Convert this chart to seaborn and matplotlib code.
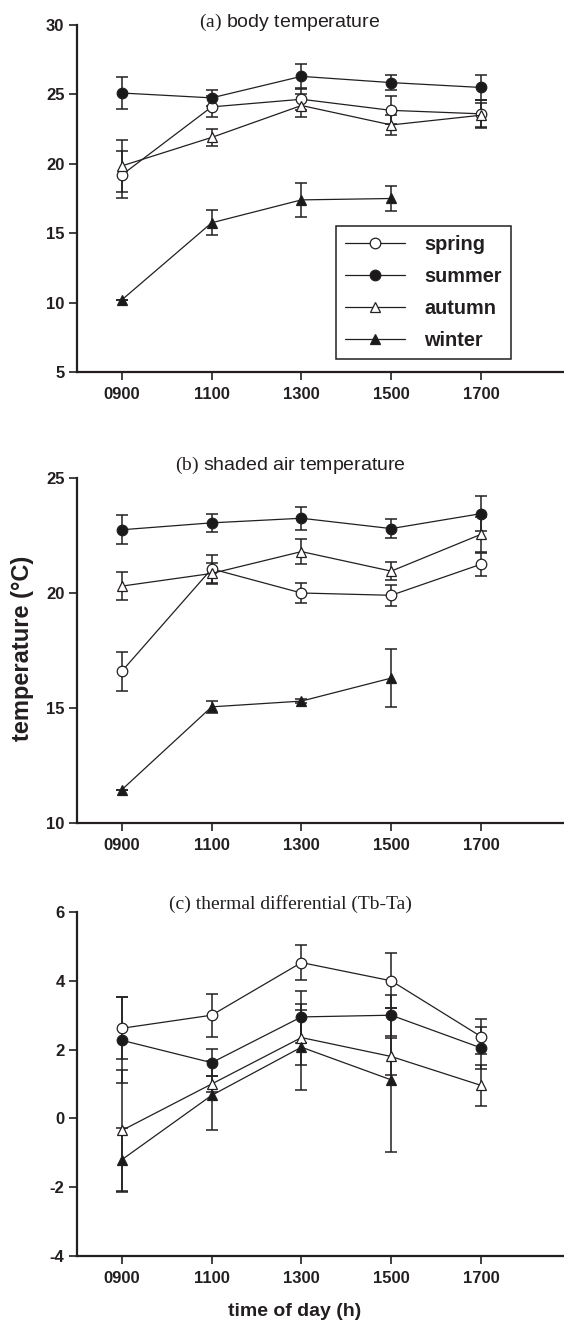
import numpy as np
import pandas as pd
import matplotlib
matplotlib.use("Agg")
import matplotlib.pyplot as plt
import seaborn as sns

# ---------------- data ----------------
times = [900, 1100, 1300, 1500, 1700]
time_labels = ["0900", "1100", "1300", "1500", "1700"]
seasons = ["spring", "summer", "autumn", "winter"]

# (a) body temperature
tb_spring = [19.2, 24.1, 24.65, 23.85, 23.6]
tb_spring_se = [1.7, 0.75, 0.8, 1.0, 1.0]
tb_summer = [25.1, 24.75, 26.3, 25.85, 25.5]
tb_summer_se = [1.15, 0.55, 0.9, 0.55, 0.9]
tb_autumn = [19.85, 21.9, 24.2, 22.8, 23.5]
tb_autumn_se = [1.9, 0.6, 0.85, 0.75, 0.85]
tb_winter = [10.2, 15.75, 17.4, 17.5, np.nan]
tb_winter_se = [0.0, 0.9, 1.25, 0.9, np.nan]

# (b) shaded air temperature
ta_spring = [16.6, 21.05, 20.0, 19.9, 21.25]
ta_spring_se = [0.85, 0.6, 0.45, 0.45, 0.5]
ta_summer = [22.75, 23.05, 23.25, 22.8, 23.45]
ta_summer_se = [0.62, 0.4, 0.5, 0.4, 0.75]
ta_autumn = [20.3, 20.85, 21.8, 20.95, 22.55]
ta_autumn_se = [0.6, 0.45, 0.55, 0.4, 0.75]
ta_winter = [11.45, 15.05, 15.3, 16.3, np.nan]
ta_winter_se = [0.0, 0.25, 0.1, 1.25, np.nan]

# (c) thermal differential
td_spring = [2.62, 3.0, 4.53, 4.0, 2.38]
td_spring_se = [0.9, 0.62, 0.5, 0.8, 0.52]
td_summer = [2.27, 1.62, 2.95, 3.0, 2.05]
td_summer_se = [1.25, 0.4, 0.75, 0.6, 0.6]
td_autumn = [-0.35, 1.0, 2.35, 1.8, 0.96]
td_autumn_se = [1.75, 0.22, 0.8, 0.55, 0.6]
td_winter = [-1.2, 0.67, 2.07, 1.12, np.nan]
td_winter_se = [0.93, 1.0, 1.25, 2.1, np.nan]

panels = [
    ("a", "body temperature", (5, 30), [5, 10, 15, 20, 25, 30],
     [tb_spring, tb_summer, tb_autumn, tb_winter],
     [tb_spring_se, tb_summer_se, tb_autumn_se, tb_winter_se]),
    ("b", "shaded air temperature", (10, 25), [10, 15, 20, 25],
     [ta_spring, ta_summer, ta_autumn, ta_winter],
     [ta_spring_se, ta_summer_se, ta_autumn_se, ta_winter_se]),
    ("c", "thermal differential (Tb-Ta)", (-4, 6), [-4, -2, 0, 2, 4, 6],
     [td_spring, td_summer, td_autumn, td_winter],
     [td_spring_se, td_summer_se, td_autumn_se, td_winter_se]),
]

# ---------------- style ----------------
sns.set_theme(style="ticks")
plt.rcParams["font.family"] = ["Liberation Sans", "DejaVu Sans"]
plt.rcParams["mathtext.fontset"] = "custom"
plt.rcParams["mathtext.rm"] = "Liberation Serif"
plt.rcParams["axes.unicode_minus"] = False
INK = "#231f20"

marker_style = {
    "spring": dict(marker="o", markerfacecolor="white"),
    "summer": dict(marker="o", markerfacecolor="#1a1a1a"),
    "autumn": dict(marker="^", markerfacecolor="white"),
    "winter": dict(marker="^", markerfacecolor="#1a1a1a"),
}

W_PX, H_PX = 564, 1323
fig = plt.figure(figsize=(W_PX / 100, H_PX / 100), dpi=100)

L = 77 / W_PX
AW = 487 / W_PX
boxes = [(25, 372), (478, 823), (912, 1256)]
title_base = [27, 470, 909]

axes = []
for i, (tag, title, ylim, yticks, vals, ses) in enumerate(panels):
    top, bot = boxes[i]
    ax = fig.add_axes([L, 1 - bot / H_PX, AW, (bot - top) / H_PX])
    axes.append(ax)
    for s, v, e in zip(seasons, vals, ses):
        df = pd.DataFrame({"time": times, "value": v, "se": e}).dropna()
        ax.errorbar(df["time"], df["value"], yerr=df["se"], fmt="none",
                    ecolor=INK, elinewidth=1.1, capsize=4.2, capthick=1.1,
                    zorder=2)
        sns.lineplot(data=df, x="time", y="value", ax=ax, color=INK,
                     linewidth=0.9, markersize=7.6, markeredgecolor=INK,
                     markeredgewidth=0.9, errorbar=None, label=s, zorder=3,
                     **marker_style[s])
    ax.set_xlim(800, 1885)
    ax.set_ylim(*ylim)
    ax.set_yticks(yticks)
    ax.set_xticks(times)
    ax.set_xticklabels(time_labels)
    ax.set_xlabel("")
    ax.set_ylabel("")
    sns.despine(ax=ax)
    for sp in ("left", "bottom"):
        ax.spines[sp].set_linewidth(1.6)
        ax.spines[sp].set_color(INK)
    ax.tick_params(axis="both", direction="out", length=6, width=1.2,
                   color=INK, labelcolor=INK, labelsize=12)
    ax.tick_params(axis="x", pad=5)
    ax.tick_params(axis="y", pad=3)
    for lab in ax.get_xticklabels() + ax.get_yticklabels():
        lab.set_fontweight("bold")
    lg = ax.get_legend()
    if lg is not None:
        lg.remove()
    # panel title
    if tag == "c":
        fig.text(290 / W_PX, 1 - title_base[i] / H_PX, f"({tag}) {title}",
                 ha="center", va="baseline", fontsize=14, color=INK,
                 family=["Liberation Serif", "DejaVu Serif"])
    else:
        fig.text(290 / W_PX, 1 - title_base[i] / H_PX,
                 r"$\mathrm{(" + tag + r")}$ " + title,
                 ha="center", va="baseline", fontsize=14, color=INK)

# legend in panel a
handles, labels = axes[0].get_legend_handles_labels()
leg = fig.legend(handles[:4], labels[:4], loc="upper left",
                 bbox_to_anchor=(336 / W_PX, 1 - 226 / H_PX),
                 bbox_transform=fig.transFigure, borderaxespad=0,
                 fontsize=14.3, handlelength=3.0, handletextpad=1.0,
                 labelspacing=0.66, borderpad=0.45, fancybox=False,
                 framealpha=1, edgecolor=INK, numpoints=1)
leg.get_frame().set_linewidth(1.1)
for t in leg.get_texts():
    t.set_fontweight("bold")
    t.set_color(INK)

# axis labels
fig.text(23 / W_PX, 1 - 648 / H_PX, "temperature (°C)", rotation=90,
         ha="center", va="center", fontsize=17, fontweight="bold", color=INK)
fig.text(295 / W_PX, 1 - 1311 / H_PX, "time of day (h)", ha="center",
         va="center", fontsize=14, fontweight="bold", color=INK)

fig.savefig("out.png", dpi=100)
